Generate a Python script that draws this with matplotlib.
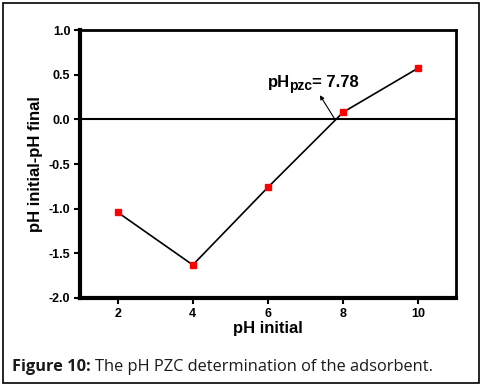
import matplotlib.pyplot as plt
from matplotlib.patches import Rectangle
from matplotlib.transforms import offset_copy

plt.rcParams['font.family'] = 'Liberation Sans'

# data
ph_initial = [2, 4, 6, 8, 10]
ph_diff = [-1.04, -1.63, -0.76, 0.08, 0.575]
ph_pzc = 7.78

fig = plt.figure(figsize=(4.83, 3.89), dpi=100)
ax = fig.add_axes([80 / 483, 1 - 298 / 389, 376 / 483, 268 / 389])

ax.plot(ph_initial, ph_diff, color='black', linewidth=1.2, zorder=2)
ax.plot(ph_initial, ph_diff, linestyle='none', marker='s', markersize=5,
        color='#ff0000', zorder=3)
ax.axhline(0, color='black', linewidth=1.5, zorder=1)

ax.set_xlim(1, 11)
ax.set_ylim(-2.0, 1.0)
ax.set_xticks([2, 4, 6, 8, 10])
ax.set_yticks([-2.0, -1.5, -1.0, -0.5, 0.0, 0.5, 1.0])
ax.set_yticklabels(['-2.0', '-1.5', '-1.0', '-0.5', '0.0', '0.5', '1.0'])
ax.tick_params(axis='both', direction='out', length=4, width=1.5,
               labelsize=9, pad=3)
for lab in ax.get_xticklabels() + ax.get_yticklabels():
    lab.set_fontweight('bold')
for side in ['left', 'bottom']:
    ax.spines[side].set_linewidth(3)
for side in ['top', 'right']:
    ax.spines[side].set_linewidth(2)

ax.set_xlabel('pH initial', fontsize=12, fontweight='bold', labelpad=1)
ax.set_ylabel('pH initial-pH final', fontsize=12, fontweight='bold', labelpad=4)

# pH_pzc label with arrow from the zero crossing
ax.annotate('', xy=(7.38, 0.27), xytext=(ph_pzc, 0),
            arrowprops=dict(arrowstyle='-|>', color='black', lw=0.8,
                            shrinkA=0, shrinkB=0, mutation_scale=6))
fig.canvas.draw()
r = fig.canvas.get_renderer()
t1 = ax.text(6.0, 0.36, 'pH', fontsize=12, fontweight='bold')
w1 = t1.get_window_extent(r).width - 1
t2 = ax.text(6.0, 0.36, 'pzc', fontsize=10, fontweight='bold',
             transform=offset_copy(ax.transData, fig, x=w1, y=-3, units='dots'))
w2 = t2.get_window_extent(r).width
ax.text(6.0, 0.36, '= 7.78', fontsize=12, fontweight='bold',
        transform=offset_copy(ax.transData, fig, x=w1 + w2, y=0, units='dots'))

# outer frame and caption
fig.patches.append(Rectangle((3 / 483, 6 / 389), 476 / 483, 380 / 389,
                             transform=fig.transFigure, fill=False,
                             edgecolor='black', linewidth=1.2))
c1 = fig.text(12 / 483, 1 - 367 / 389, 'Figure 10:', fontsize=11.8,
              fontweight='bold', family='Open Sans', color='#1a1a1a',
              va='center')
wc = c1.get_window_extent(r).width
fig.text((12 + wc + 4) / 483, 1 - 367 / 389,
         'The pH PZC determination of the adsorbent.', fontsize=11.8,
         family='Open Sans', color='#1a1a1a', va='center')

fig.savefig('out.png', dpi=100)
